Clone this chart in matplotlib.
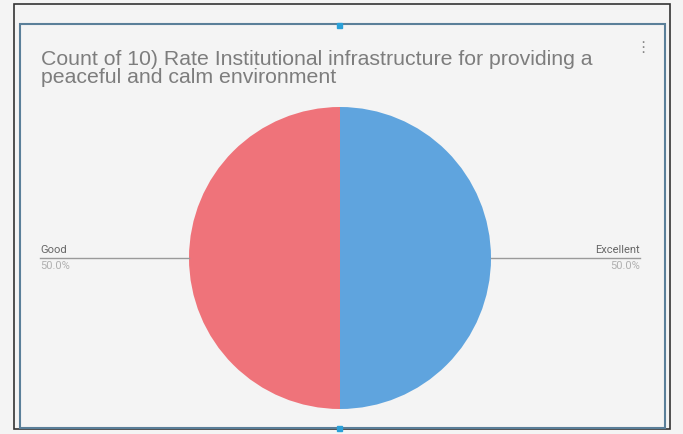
import matplotlib
matplotlib.use("Agg")
import matplotlib.pyplot as plt
from matplotlib.patches import Rectangle

title = "Count of 10) Rate Institutional infrastructure for providing a\npeaceful and calm environment"
labels = ["Excellent", "Good"]
counts = [1, 1]
colors = ["#5fa4de", "#ef737a"]

W, H = 683, 434
fig = plt.figure(figsize=(W / 100, H / 100), dpi=100)
fig.patch.set_facecolor("#f4f4f4")

# frames around the chart (scan look)
fig.patches.append(Rectangle((14 / W, 5 / H), 656 / W, 425 / H, transform=fig.transFigure,
                             fill=False, edgecolor="#333333", lw=1.2))
fig.patches.append(Rectangle((20 / W, 6 / H), 645 / W, 404 / H, transform=fig.transFigure,
                             fill=False, edgecolor="#5a7f99", lw=1.5))
fig.patches.append(Rectangle((337 / W, 406 / H), 5 / W, 5 / H, transform=fig.transFigure,
                             color="#2aa0d8"))
fig.patches.append(Rectangle((337 / W, 3 / H), 5 / W, 5 / H, transform=fig.transFigure,
                             color="#2aa0d8"))

fig.text(41 / W, 1 - 50 / H, title, ha="left", va="top", fontsize=15.3,
         color="#7d7d7d", family="Liberation Sans", linespacing=0.93)
fig.text(643 / W, 1 - 40 / H, "⋮", ha="center", va="top", fontsize=11, color="#888888")

cx, cy, r = 340, 258, 151
ax = fig.add_axes([(cx - r) / W, (H - cy - r) / H, 2 * r / W, 2 * r / H])
ax.pie(counts, colors=colors, startangle=90, counterclock=False, radius=1,
       wedgeprops=dict(linewidth=0))
ax.set_xlim(-1, 1)
ax.set_ylim(-1, 1)
ax.axis("off")

total = sum(counts)
# leader lines and labels
for lab, cnt in zip(labels, counts):
    pct = f"{100 * cnt / total:.1f}%"
    if lab == "Good":
        x0, x1, tx, ha = 40, cx - r, 40, "left"
    else:
        x0, x1, tx, ha = cx + r, 640, 640, "right"
    fig.lines.append(plt.Line2D([x0 / W, x1 / W], [(H - cy) / H] * 2,
                                transform=fig.transFigure, color="#9a9a9a", lw=1))
    fig.text(tx / W, (H - cy + 3) / H, lab, ha=ha, va="bottom", fontsize=8,
             color="#666666", family="Roboto")
    fig.text(tx / W, (H - cy - 3) / H, pct, ha=ha, va="top", fontsize=8,
             color="#b0b0b0", family="Roboto")

fig.savefig("out.png", dpi=100, facecolor=fig.get_facecolor())
